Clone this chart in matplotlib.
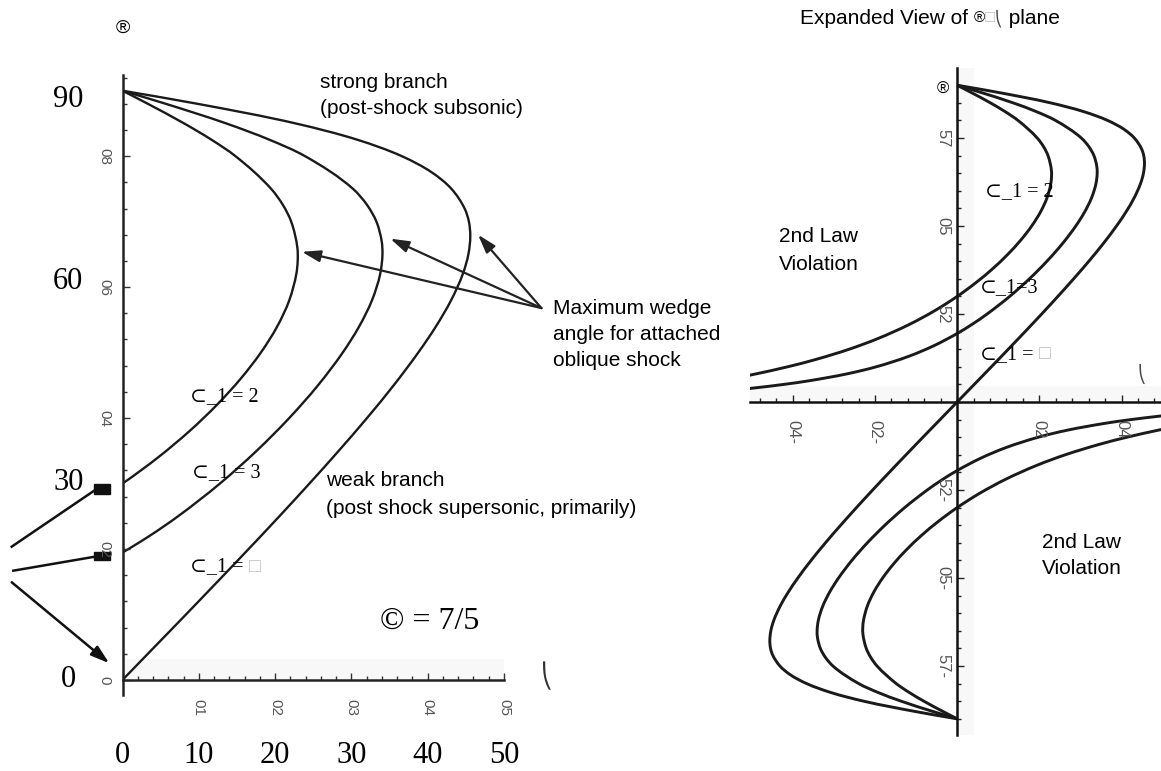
import matplotlib
matplotlib.use("Agg")
import numpy as np
import matplotlib.pyplot as plt
from matplotlib.patches import Rectangle, PathPatch
from matplotlib.path import Path
from matplotlib.ticker import MultipleLocator

# ---------------- data ----------------
# shock angle beta (deg) and deflection angle theta (deg), gamma = 7/5
beta_M2 = [90, 88, 85, 82.5, 80, 75, 72.5, 70, 66, 64, 62, 58, 54, 50, 46, 42, 38, 34, 30,
           26, 22, 18, 15, 12, 10, 8, 7]
theta_M2 = [0, 3.32, 8.08, 11.68, 14.81, 19.49, 21.05, 22.11, 22.92, 22.96, 22.78, 21.86, 20.28,
            18.13, 15.48, 12.36, 8.77, 4.67, 0, -5.38, -11.71, -19.35, -26.28, -34.67, -41.29,
            -48.92, -53.15]

beta_M3 = [90, 88, 85, 82.5, 80, 75, 72.5, 70, 67, 65, 62, 58, 54, 50, 45, 40, 35, 30, 25, 22,
           19.47, 16, 13, 10, 8, 6, 5, 4, 3.8]
theta_M3 = [0, 5.67, 13.60, 19.28, 23.93, 30.22, 32.08, 33.28, 33.97, 34.07, 33.77, 32.70, 31.02,
            28.86, 25.62, 21.85, 17.58, 12.77, 7.28, 3.54, 0, -5.66, -11.75, -19.72, -26.81,
            -36.24, -42.23, -49.31, -50.88]

beta_Minf = [90, 88, 85, 82.5, 80, 77.5, 75, 72, 70, 67.8, 65, 62, 58, 54, 50, 45, 40, 35, 30,
             25, 20, 15, 10, 5, 0]
theta_Minf = [0, 9.83, 22.70, 30.81, 36.61, 40.57, 43.12, 44.84, 45.40, 45.58, 45.33, 44.60, 43.07,
              41.08, 38.76, 35.54, 32.04, 28.34, 24.50, 20.56, 16.53, 12.44, 8.32, 4.16, 0]

# tick labels as printed in the picture (scanned, rotated)
left_xticks = [0, 10, 20, 30, 40, 50]
left_xticklabels = ["", "01", "02", "03", "04", "05"]
left_yticks = [0, 20, 40, 60, 80]
left_yticklabels = ["0", "02", "04", "06", "08"]
big_y_labels = ["90", "60", "30", "0"]
big_y_values = [88.7, 60.8, 30.2, 0]
big_x_labels = ["0", "10", "20", "30", "40", "50"]
big_x_values = [0, 10, 20, 30, 40, 50]

right_xticks = [-40, -20, 20, 40]
right_xticklabels = ["04-", "02-", "02", "04"]
right_yticks = [-75, -50, -25, 25, 50, 75]
right_yticklabels = ["57-", "05-", "52-", "52", "05", "57"]

# ---------------- helpers ----------------
W, H = 1161, 771
fig = plt.figure(figsize=(W / 100, H / 100), dpi=100)


def fx(x):
    return x / W


def fy(y):
    return 1 - y / H


def smooth_path(xs, ys, sx, sy):
    """Smooth cubic Bezier path passing through every data point."""
    p = np.column_stack([np.asarray(xs, float) * sx, np.asarray(ys, float) * sy])
    n = len(p)
    tang = np.zeros_like(p)
    for i in range(n):
        d = np.zeros(2)
        if i > 0:
            v = p[i] - p[i - 1]
            d += v / np.hypot(*v)
        if i < n - 1:
            v = p[i + 1] - p[i]
            d += v / np.hypot(*v)
        tang[i] = d / np.hypot(*d)
    verts = [p[0]]
    codes = [Path.MOVETO]
    for i in range(n - 1):
        L = np.hypot(*(p[i + 1] - p[i]))
        verts += [p[i] + tang[i] * L / 3, p[i + 1] - tang[i + 1] * L / 3, p[i + 1]]
        codes += [Path.CURVE4] * 3
    v = np.array(verts)
    v[:, 0] /= sx
    v[:, 1] /= sy
    return Path(v, codes)


serif = ["Liberation Serif", "DejaVu Serif"]
sans = ["Liberation Sans", "DejaVu Sans"]
ink = "#1a1a1a"
haze = "#f8f8f8"

# ---------- left panel ----------
axL = fig.add_axes([122.5 / W, (H - 695) / H, 381.5 / W, 620 / H])
axL.set_xlim(0, 50)
axL.set_ylim(-2.3, 92.4)
axL.patch.set_alpha(0)
for s in ["top", "right"]:
    axL.spines[s].set_visible(False)
axL.spines["bottom"].set_position(("data", 0))
for s in ["left", "bottom"]:
    axL.spines[s].set_linewidth(1.8)
    axL.spines[s].set_color("#222222")

# faint scan shading along the theta axis
axL.axhspan(0.2, 3.2, color=haze, zorder=0, lw=0)

for th, be in [(theta_M2, beta_M2), (theta_M3, beta_M3), (theta_Minf, beta_Minf)]:
    axL.add_patch(PathPatch(smooth_path(th, be, 7.63, 6.55), fill=False, ec=ink, lw=1.7))

axL.set_xticks(left_xticks)
axL.set_xticklabels(left_xticklabels, rotation=270, family=sans)
axL.set_yticks(left_yticks)
axL.set_yticklabels(left_yticklabels, rotation=270, va="center", family=sans)
axL.xaxis.set_minor_locator(MultipleLocator(2))
axL.yaxis.set_minor_locator(MultipleLocator(4))
axL.tick_params(which="both", direction="in", color="#333333", width=1.0,
                labelsize=11, labelcolor="#555555")
axL.tick_params(which="major", length=5)
axL.tick_params(which="minor", length=3)
axL.tick_params(axis="x", pad=14)
axL.tick_params(axis="y", pad=8)

# big overlaid axis numbers
for lab, v in zip(big_y_labels, big_y_values):
    axL.text(-7.1, v, lab, ha="center", va="center", fontsize=22, family=serif,
             clip_on=False)
for lab, v in zip(big_x_labels, big_x_values):
    axL.text(v, -11.5, lab, ha="center", va="center", fontsize=22, family=serif,
             clip_on=False)

# arrows to the maxima
arrow_style = "-|>,head_length=0.7,head_width=0.22"
for hx, hy in [(23.5, 65.4), (35.1, 67.4), (46.6, 68.0)]:
    axL.annotate("", xy=(hx, hy), xytext=(54.9, 56.8), annotation_clip=False,
                 arrowprops=dict(arrowstyle=arrow_style, lw=1.6, color="#222222",
                                 mutation_scale=16, shrinkA=0, shrinkB=0))

# left-side pointer lines and squares
axL.plot([-14.52, -3.6], [20.36, 29.0], color="#111111", lw=1.8, clip_on=False)
axL.plot([-14.31, -3.6], [16.69, 18.83], color="#111111", lw=1.8, clip_on=False)
axL.add_patch(Rectangle((-3.75, 28.45), 2.15, 1.55, color="#111111", clip_on=False))
axL.add_patch(Rectangle((-3.78, 18.25), 2.2, 1.25, color="#111111", clip_on=False))
axL.annotate("", xy=(-1.73, 2.55), xytext=(-14.52, 14.92), annotation_clip=False,
             arrowprops=dict(arrowstyle=arrow_style, lw=1.8, color="#111111",
                             mutation_scale=16, shrinkA=0, shrinkB=0))

# texts of left panel
fig.text(fx(122.5), fy(28), "®", ha="center", va="center", fontsize=14, family=sans)
fig.text(fx(320), fy(82), "strong branch", ha="left", va="center", fontsize=15, family=sans)
fig.text(fx(320), fy(109), "(post-shock subsonic)", ha="left", va="center", fontsize=15,
         family=sans)
fig.text(fx(553), fy(308), "Maximum wedge", ha="left", va="center", fontsize=15, family=sans)
fig.text(fx(553), fy(334), "angle for attached", ha="left", va="center", fontsize=15,
         family=sans)
fig.text(fx(553), fy(360), "oblique shock", ha="left", va="center", fontsize=15, family=sans)
fig.text(fx(326), fy(480), "weak branch", ha="left", va="center", fontsize=15, family=sans)
fig.text(fx(326), fy(508), "(post shock supersonic, primarily)", ha="left", va="center",
         fontsize=15, family=sans)

fig.text(fx(190), fy(397), "⊂_1 = 2", ha="left", va="center", fontsize=14.5, family=serif)
fig.text(fx(192), fy(473), "⊂_1 = 3", ha="left", va="center", fontsize=14.5, family=serif)
t = fig.text(fx(190), fy(567), "⊂_1 = ", ha="left", va="center", fontsize=14.5, family=serif)
axL.annotate("□", xy=(1, 0.5), xycoords=t, ha="left", va="center", fontsize=14,
             color="#bdbdbd", family=sans, annotation_clip=False)
fig.text(fx(380), fy(621), "© = 7/5", ha="left", va="center", fontsize=23, family=serif)
fig.text(fx(547), fy(676), "⎝", ha="center", va="center", fontsize=17, family=sans,
         color="#333333")

# ---------- right panel ----------
axR = fig.add_axes([750 / W, (H - 735) / H, 411 / W, 667 / H])
axR.set_xlim(-50.4, 49.6)
axR.set_ylim(-94.6, 94.9)
axR.patch.set_alpha(0)
for s in ["top", "right"]:
    axR.spines[s].set_visible(False)
axR.spines["left"].set_position(("data", 0))
axR.spines["bottom"].set_position(("data", 0))
for s in ["left", "bottom"]:
    axR.spines[s].set_linewidth(1.8)
    axR.spines[s].set_color("#111111")

axR.axhspan(0.5, 4.5, color=haze, zorder=0, lw=0)
axR.axvspan(0.3, 4.0, color=haze, zorder=0, lw=0)

for th, be in [(theta_M2, beta_M2), (theta_M3, beta_M3), (theta_Minf, beta_Minf)]:
    axR.add_patch(PathPatch(smooth_path(th, be, 4.11, 3.52), fill=False, ec=ink, lw=2.1))
    axR.add_patch(PathPatch(smooth_path([-v for v in th], [-v for v in be], 4.11, 3.52),
                            fill=False, ec=ink, lw=2.1))

axR.set_xticks(right_xticks)
axR.set_xticklabels(right_xticklabels, rotation=270, family=sans)
axR.set_yticks(right_yticks)
axR.set_yticklabels(right_yticklabels, rotation=270, va="center", family=sans)
axR.xaxis.set_minor_locator(MultipleLocator(4))
axR.yaxis.set_minor_locator(MultipleLocator(5))
axR.tick_params(which="both", direction="in", color="#222222", width=1.0,
                labelsize=12, labelcolor="#555555")
axR.tick_params(which="major", length=5)
axR.tick_params(which="minor", length=3)
axR.tick_params(axis="x", pad=13)
axR.tick_params(axis="y", pad=5)

# texts of right panel
t1 = fig.text(fx(800), fy(18), "Expanded View of ", ha="left", va="center", fontsize=15,
              family=sans)
t2 = axR.annotate("®", xy=(1, 0.5), xycoords=t1, ha="left", va="center", fontsize=11,
                  family=sans, annotation_clip=False)
t3 = axR.annotate("□", xy=(1, 0.5), xycoords=t2, ha="left", va="center", fontsize=12,
                  family=sans, color="#bdbdbd", annotation_clip=False)
t4 = axR.annotate("⎝", xy=(1, 0.5), xycoords=t3, ha="left", va="center", fontsize=11,
                  family=sans, color="#444444", annotation_clip=False)
axR.annotate(" plane", xy=(1, 0.5), xycoords=t4, ha="left", va="center", fontsize=15,
             family=sans, annotation_clip=False)

fig.text(fx(943), fy(89), "®", ha="center", va="center", fontsize=12, family=sans)
fig.text(fx(779), fy(237), "2nd Law", ha="left", va="center", fontsize=15, family=sans)
fig.text(fx(779), fy(264), "Violation", ha="left", va="center", fontsize=15, family=sans)
fig.text(fx(1042), fy(542), "2nd Law", ha="left", va="center", fontsize=15, family=sans)
fig.text(fx(1042), fy(568), "Violation", ha="left", va="center", fontsize=15, family=sans)
fig.text(fx(985), fy(192), "⊂_1 = 2", ha="left", va="center", fontsize=14.5, family=serif)
fig.text(fx(980), fy(288), "⊂_1=3", ha="left", va="center", fontsize=14.5, family=serif)
t5 = fig.text(fx(980), fy(355), "⊂_1 = ", ha="left", va="center", fontsize=14.5, family=serif)
axR.annotate("□", xy=(1, 0.5), xycoords=t5, ha="left", va="center", fontsize=14,
             color="#bdbdbd", family=sans, annotation_clip=False)
fig.text(fx(1142), fy(374), "⎝", ha="center", va="center", fontsize=12, family=sans,
         color="#444444")

fig.savefig("out.png", dpi=100, facecolor="white")
